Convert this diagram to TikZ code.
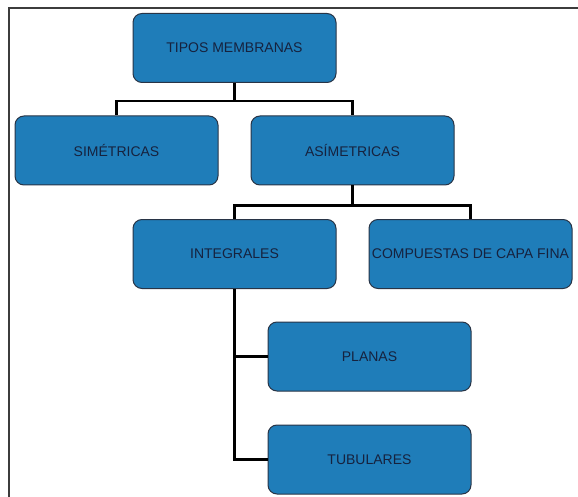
\documentclass[tikz,border=0pt]{standalone}
\usepackage{fontspec}
\setmainfont{Liberation Sans}
\usepackage{tikz}
\usetikzlibrary{calc,positioning}
\definecolor{boxblue}{RGB}{31,125,185}
\definecolor{boxedge}{RGB}{40,52,70}
\definecolor{boxtext}{RGB}{22,34,62}
\definecolor{frame}{RGB}{60,60,60}

\begin{document}
\begin{tikzpicture}[x=1pt, y=-1pt,
  box/.style = {draw=boxedge, line width=1pt, fill=boxblue, rounded corners=9pt,
                minimum width=203pt, minimum height=69pt, inner sep=0pt,
                text=boxtext, font=\fontsize{14}{16}\selectfont},
  link/.style = {line width=2.8pt, black}]
\useasboundingbox (0,0) rectangle (578,497);
\draw[frame, line width=2pt] (8.5,497) -- (8.5,8.5) -- (578,8.5);

\node[box] (tipos) at (234.5,48) {TIPOS MEMBRANAS};
\node[box] (sim) at (116.5,150.5) {SIMÉTRICAS};
\node[box] (asim) at (352.5,150.5) {ASÍMETRICAS};
\node[box] (integ) at (234.5,254) {INTEGRALES};
\node[box] (comp) at (470.5,254) {COMPUESTAS DE CAPA FINA};
\node[box] (planas) at (369.5,356.5) {PLANAS};
\node[box] (tubul) at (369.5,459.5) {TUBULARES};

\foreach \n in {sim,asim}
\draw[link] (tipos.south) -- ++(0,18) -| (\n.north);
\foreach \n in {integ,comp}
\draw[link] (asim.south) -- ++(0,20) -| (\n.north);
\foreach \n in {planas,tubul}
\draw[link] (integ.south) |- (\n.west);
\end{tikzpicture}
\end{document}
